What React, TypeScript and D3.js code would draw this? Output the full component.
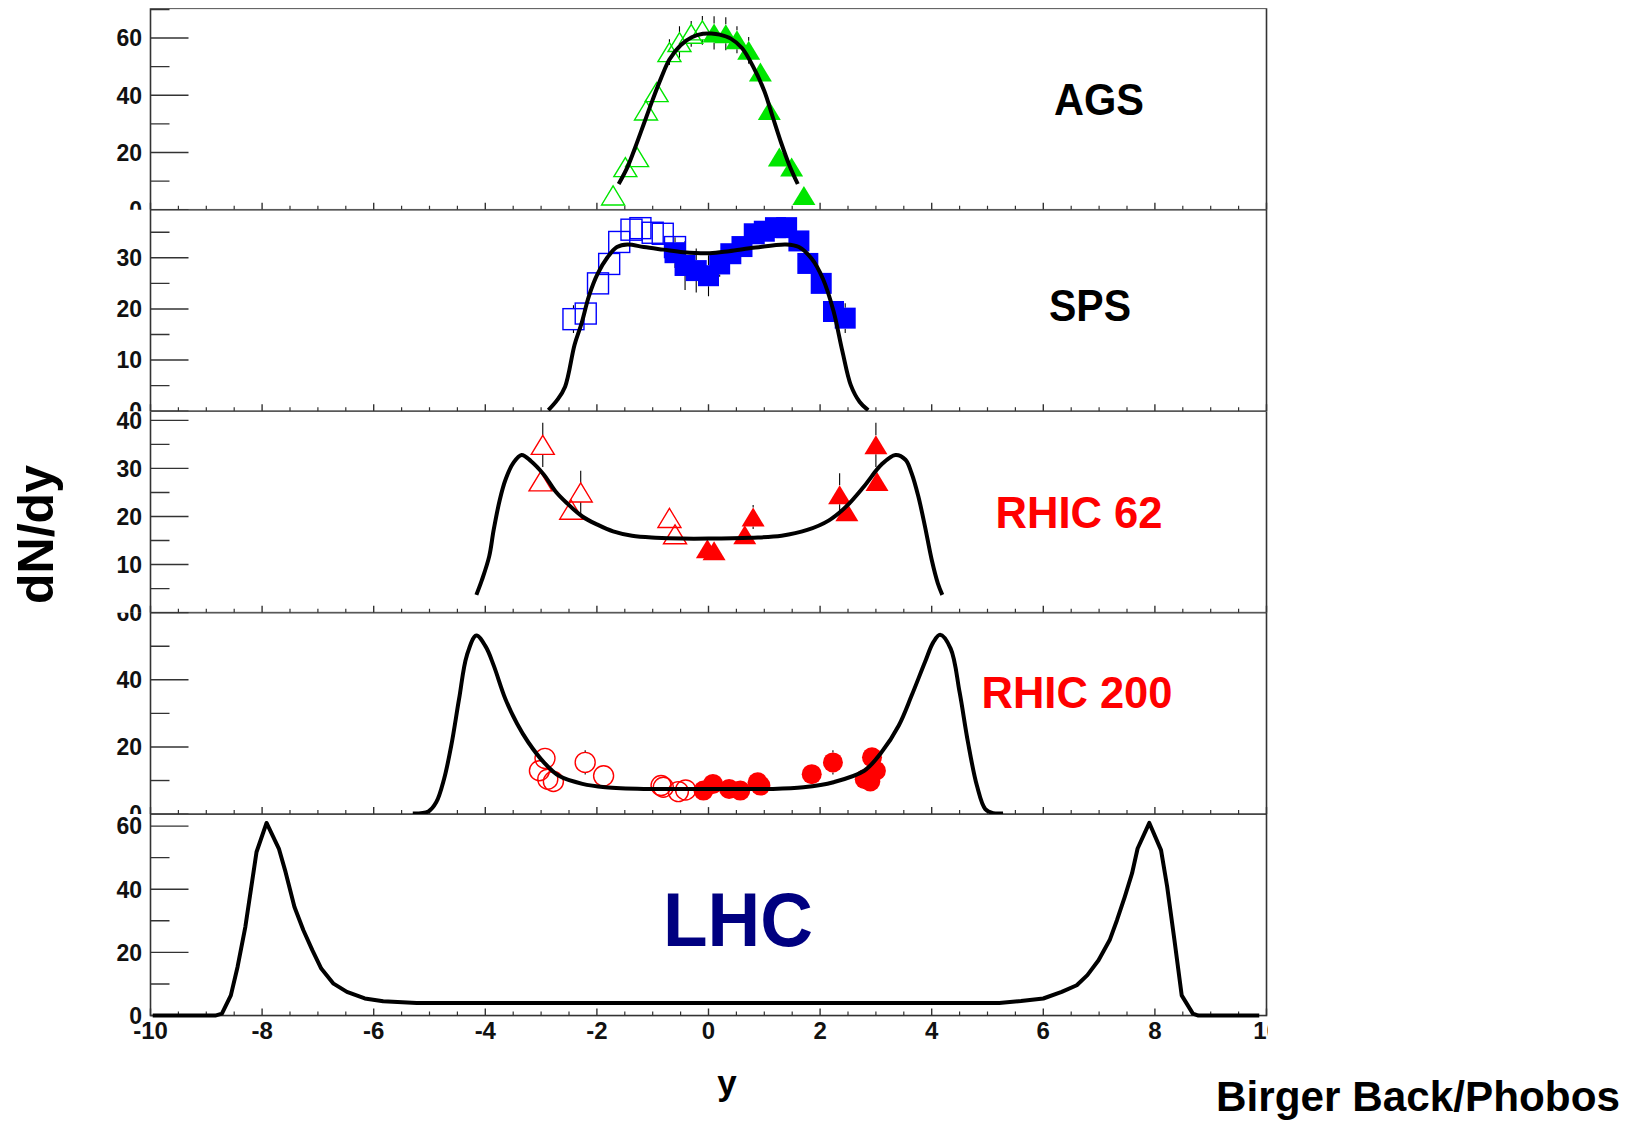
import React from "react";
import * as d3 from "d3";

// ---------- data ----------
const X_TICK_VALUES = [-10, -8, -6, -4, -2, 0, 2, 4, 6, 8, 10];
const X_TICK_LABELS = ["-10", "-8", "-6", "-4", "-2", "0", "2", "4", "6", "8", "10"];

const PANEL_NAMES = ["AGS", "SPS", "RHIC 62", "RHIC 200", "LHC"];
const PANEL_YMAX = [70.4, 39.4, 41.9, 60, 63.8];
const PANEL_Y_MAJOR = [[0, 20, 40, 60], [0, 10, 20, 30], [0, 10, 20, 30, 40], [0, 20, 40, 60], [0, 20, 40, 60]];
const PANEL_Y_MINOR = [[10, 30, 50, 70], [5, 15, 25, 35], [5, 15, 25, 35], [10, 30, 50], [10, 30, 50]];

// AGS (green triangles) : [y-rapidity, dN/dy, error]
const agsCurve = [[-1.61, 9], [-1.45, 15], [-1.3, 22.5], [-1.15, 30.5], [-1.0, 38.5], [-0.85, 46], [-0.7, 52.5], [-0.5, 57.5], [-0.3, 60.3], [-0.1, 61.5], [0.05, 61.6], [0.2, 61.2], [0.4, 59.8], [0.6, 56.5], [0.8, 50], [1.0, 41.5], [1.15, 32.5], [1.3, 23.5], [1.45, 15.5], [1.6, 9]];
const agsOpen = [[-1.71, 5.0, 1], [-1.49, 14.9, 1], [-1.28, 18.4, 1], [-1.12, 34.7, 1.5], [-0.93, 41.1, 1.5], [-0.7, 55.1, 4.5], [-0.52, 58.6, 5.5], [-0.31, 61.5, 4.5], [-0.11, 62.7, 5]];
const agsFilled = [[0.1, 61.8, 5.8], [0.31, 61.5, 5.8], [0.51, 59.4, 4.7], [0.72, 55.7, 4.7], [0.93, 48.1, 1.5], [1.09, 34.7, 1.5], [1.27, 18.4, 1], [1.49, 14.9, 1], [1.71, 5.0, 1]];

// SPS (blue squares)
const spsCurve = [[-2.87, 0.2], [-2.71, 2.2], [-2.57, 4.8], [-2.4, 13.0], [-2.28, 17.0], [-2.14, 22.6], [-1.99, 26.8], [-1.81, 30.1], [-1.64, 32.1], [-1.45, 32.6], [-1.16, 32.1], [-0.81, 31.6], [-0.45, 31.1], [0.02, 30.9], [0.37, 31.3], [0.84, 32.0], [1.39, 32.6], [1.62, 32.1], [1.85, 29.8], [2.05, 25.9], [2.24, 19.6], [2.4, 11.7], [2.55, 5.1], [2.71, 1.8], [2.86, 0.2]];
const spsOpen = [[-2.42, 18.0, 2.7], [-2.2, 19.1, 1], [-1.98, 25.0, 1], [-1.78, 28.8, 1], [-1.6, 33.1, 1], [-1.38, 35.5, 1], [-1.22, 35.8, 1], [-1.0, 34.9, 1], [-0.82, 34.7, 1], [-0.6, 32.1, 1]];
const spsFilled = [[-0.6, 31.0, 3], [-0.42, 28.5, 4.8], [-0.22, 27.5, 4.3], [0.0, 26.5, 4], [0.2, 28.8, 2.5], [0.4, 30.8, 1], [0.6, 32.2, 1], [0.82, 34.7, 1], [1.0, 35.2, 1], [1.2, 35.9, 1], [1.4, 35.9, 1], [1.62, 33.3, 1], [1.78, 28.9, 1], [2.02, 25.0, 1], [2.24, 19.5, 1], [2.45, 18.2, 2.9]];

// RHIC 62 (red triangles)
const rhic62Curve = [[-4.16, 3.7], [-4.06, 6.8], [-3.93, 11.7], [-3.85, 17.2], [-3.74, 23.5], [-3.64, 27.6], [-3.5, 31.1], [-3.35, 32.8], [-3.18, 31.5], [-2.95, 28.7], [-2.74, 25.2], [-2.54, 22.8], [-2.26, 20.0], [-1.99, 18.3], [-1.71, 16.9], [-1.37, 16.0], [-0.95, 15.6], [-0.47, 15.4], [0, 15.4], [0.76, 15.6], [1.31, 16.0], [1.77, 17.2], [2.16, 19.2], [2.47, 22.1], [2.79, 26.3], [3.1, 30.8], [3.35, 32.8], [3.53, 31.8], [3.64, 29.0], [3.76, 24.2], [3.88, 17.9], [4.0, 11.0], [4.11, 6.1], [4.19, 3.7]];
const rhic62Open = [[-2.97, 34.9, 4.6], [-3.01, 27.3, 1.5], [-2.29, 25.0, 4.5], [-2.46, 21.4, 1.5], [-0.7, 19.7, 1.5], [-0.6, 16.3, 1]];
const rhic62Filled = [[-0.02, 13.3, 1], [0.1, 12.9, 1], [0.65, 16.2, 1], [0.8, 19.9, 2.5], [2.35, 24.5, 4.5], [2.48, 21.0, 1.5], [3.0, 34.9, 4.6], [3.02, 27.3, 1.5]];

// RHIC 200 (red circles)
const rhic200Curve = [[-5.3, 0.2], [-5.02, 0.8], [-4.88, 3.5], [-4.74, 10.4], [-4.61, 20.4], [-4.47, 34.3], [-4.33, 47.3], [-4.16, 53.2], [-3.99, 49.8], [-3.85, 44.3], [-3.64, 34.3], [-3.43, 26.9], [-3.23, 21.4], [-2.95, 15.4], [-2.68, 11.4], [-2.26, 9.0], [-1.85, 8.0], [-1.16, 7.5], [0, 7.5], [1.15, 7.5], [1.7, 8.0], [2.24, 9.5], [2.79, 12.9], [3.1, 18.4], [3.41, 26.4], [3.64, 35.3], [3.88, 45.3], [4.03, 51.2], [4.15, 53.4], [4.34, 49.3], [4.5, 36.3], [4.65, 21.4], [4.81, 8.5], [4.96, 1.5], [5.1, 0.3], [5.28, 0.2]];
const rhic200Open = [[-2.93, 16.6, 1], [-3.03, 12.9, 1], [-2.88, 10.4, 1], [-2.78, 9.7, 1], [-2.21, 15.4, 3.6], [-1.88, 11.4, 1], [-0.85, 8.5, 1], [-0.81, 8.0, 1], [-0.54, 6.7, 1], [-0.41, 7.2, 1]];
const rhic200Filled = [[-0.09, 7.0, 1], [0.08, 9.0, 1], [0.37, 7.5, 1], [0.57, 7.0, 1], [0.88, 9.5, 1], [0.93, 8.5, 1], [1.85, 11.9, 1], [2.23, 15.4, 3.6], [2.93, 16.9, 1], [2.8, 10.4, 1], [3.0, 12.9, 1], [2.9, 9.7, 1]];

// LHC (prediction only)
const lhcCurve = [[-9.96, 0], [-8.84, 0], [-8.72, 0.6], [-8.56, 6.4], [-8.44, 15.4], [-8.3, 28.1], [-8.1, 51.8], [-7.92, 61.0], [-7.7, 52.9], [-7.58, 45.5], [-7.42, 34.4], [-7.26, 27.0], [-7.1, 20.7], [-6.94, 14.9], [-6.72, 10.1], [-6.48, 7.5], [-6.16, 5.4], [-5.83, 4.5], [-5.23, 4.0], [5.21, 4.0], [5.6, 4.6], [6.0, 5.4], [6.33, 7.5], [6.6, 9.6], [6.79, 12.8], [6.99, 17.5], [7.19, 23.9], [7.32, 30.2], [7.46, 37.6], [7.59, 45.0], [7.69, 52.9], [7.9, 61.0], [8.11, 52.4], [8.22, 40.8], [8.35, 23.9], [8.48, 6.4], [8.68, 0.6], [8.78, 0], [9.87, 0]];

// ---------- layout / style ----------
const W = 1636;
const H = 1122;
const FRAME_L = 150.5;
const FRAME_R = 1266.5;
const FRAME_TOP = 8.3;
const PANEL_H = 201.45;
const FONT = "'Liberation Sans', Arial, Helvetica, sans-serif";

const PANELS = [
  { curve: agsCurve, open: agsOpen, filled: agsFilled, shape: "tri", color: "#00e600", smooth: true, label: { x: 1099, y: 115, size: 44, len: 90, color: "#000" } },
  { curve: spsCurve, open: spsOpen, filled: spsFilled, shape: "sq", color: "#0000ff", smooth: true, label: { x: 1090, y: 320.5, size: 44, len: 82, color: "#000" } },
  { curve: rhic62Curve, open: rhic62Open, filled: rhic62Filled, shape: "tri", color: "#ff0000", smooth: true, label: { x: 1079, y: 528, size: 44, len: 167, color: "#ff0000" } },
  { curve: rhic200Curve, open: rhic200Open, filled: rhic200Filled, shape: "circ", color: "#ff0000", smooth: true, label: { x: 1077, y: 708, size: 44, len: 191, color: "#ff0000" } },
  { curve: lhcCurve, open: [], filled: [], shape: "none", color: "#000", smooth: false, label: { x: 738, y: 946, size: 76, len: 150, color: "#000080" } },
];

function markerHalf(shape: string) {
  if (shape === "tri") return 9.5;
  if (shape === "sq") return 10.5;
  return 10;
}

function Marker({ shape, filled, cx, cy, color }: any) {
  const fill = filled ? color : "none";
  const sw = filled ? 0 : 1.4;
  if (shape === "tri") {
    const pts = `${cx},${cy - 9.5} ${cx - 11.5},${cy + 9.5} ${cx + 11.5},${cy + 9.5}`;
    return <polygon points={pts} fill={fill} stroke={color} strokeWidth={sw} />;
  }
  if (shape === "sq") {
    return <rect x={cx - 10.5} y={cy - 10.5} width={21} height={21} fill={fill} stroke={color} strokeWidth={sw} />;
  }
  return <circle cx={cx} cy={cy} r={10} fill={fill} stroke={color} strokeWidth={sw} />;
}

export default function App() {
  const x = d3.scaleLinear().domain([-10, 10]).range([FRAME_L, FRAME_R]);
  const xMinor = d3.range(-10, 10.001, 0.5).filter((v) => Math.abs(v / 2 - Math.round(v / 2)) > 1e-6);

  return (
    <svg width={W} height={H} style={{ position: "absolute", left: 0, top: 0, background: "#fff" }} fontFamily={FONT}>
      <rect x={0} y={0} width={W} height={H} fill="#fff" />
      <defs>
        {PANELS.map((_, i) => {
          const top = FRAME_TOP + i * PANEL_H;
          const h = i === PANELS.length - 1 ? PANEL_H + 40 : PANEL_H;
          return (
            <clipPath id={`clip${i}`} key={i}>
              <rect x={0} y={top} width={FRAME_R + 1.5} height={h} />
            </clipPath>
          );
        })}
      </defs>
      {PANELS.map((p, i) => {
        const top = FRAME_TOP + i * PANEL_H;
        const bottom = top + PANEL_H;
        const y = d3.scaleLinear().domain([0, PANEL_YMAX[i]]).range([bottom, top]);
        const line = d3
          .line<number[]>()
          .x((d) => x(d[0]))
          .y((d) => y(d[1]))
          .curve(p.smooth ? d3.curveCatmullRom.alpha(0.5) : d3.curveLinear);
        const half = markerHalf(p.shape);
        const errBars = (pts: number[][], key: string) =>
          pts.map((d, j) => {
            const cx = x(d[0]);
            const cy = y(d[1]);
            const up = y(d[1] + d[2]);
            const dn = y(d[1] - d[2]);
            return (
              <g key={key + j} stroke="#000" strokeWidth={1.1}>
                {cy - up > half && <line x1={cx} x2={cx} y1={up} y2={cy - half} />}
                {dn - cy > half && <line x1={cx} x2={cx} y1={cy + half} y2={dn} />}
              </g>
            );
          });
        return (
          <g key={i} clipPath={`url(#clip${i})`}>
            {/* frame */}
            <rect x={FRAME_L} y={top} width={FRAME_R - FRAME_L} height={PANEL_H} fill="none" stroke="#333" strokeWidth={1.6} />
            {/* y ticks */}
            {PANEL_Y_MAJOR[i].map((v) => (
              <g key={"ym" + v}>
                <line x1={FRAME_L} x2={FRAME_L + 38} y1={y(v)} y2={y(v)} stroke="#333" strokeWidth={1.4} />
                <text x={142} y={y(v)} dy="0.36em" textAnchor="end" fontSize={23} fontWeight="bold" fill="#111">
                  {v}
                </text>
              </g>
            ))}
            {PANEL_Y_MINOR[i]
              .filter((v) => v <= PANEL_YMAX[i])
              .map((v) => (
                <line key={"yn" + v} x1={FRAME_L} x2={FRAME_L + 19} y1={y(v)} y2={y(v)} stroke="#333" strokeWidth={1.4} />
              ))}
            {/* x ticks */}
            {X_TICK_VALUES.map((v) => (
              <line key={"xm" + v} x1={x(v)} x2={x(v)} y1={bottom} y2={bottom - 7} stroke="#333" strokeWidth={1.4} />
            ))}
            {xMinor.map((v) => (
              <line key={"xn" + v} x1={x(v)} x2={x(v)} y1={bottom} y2={bottom - 4} stroke="#333" strokeWidth={1.2} />
            ))}
            {i === PANELS.length - 1 &&
              X_TICK_VALUES.map((v, j) => (
                <text key={"xl" + v} x={x(v)} y={1039} textAnchor="middle" fontSize={24} fontWeight="bold" fill="#111">
                  {X_TICK_LABELS[j]}
                </text>
              ))}
            {/* data */}
            {errBars(p.open, "eo")}
            {errBars(p.filled, "ef")}
            {p.open.map((d, j) => (
              <Marker key={"o" + j} shape={p.shape} filled={false} cx={x(d[0])} cy={y(d[1])} color={p.color} />
            ))}
            {p.filled.map((d, j) => (
              <Marker key={"f" + j} shape={p.shape} filled={true} cx={x(d[0])} cy={y(d[1])} color={p.color} />
            ))}
            <path d={line(p.curve) || ""} fill="none" stroke="#000" strokeWidth={4} strokeLinejoin="round" />
            <text
              x={p.label.x}
              y={p.label.y}
              textAnchor="middle"
              fontSize={p.label.size}
              fontWeight="bold"
              fill={p.label.color}
              textLength={p.label.len}
              lengthAdjust="spacingAndGlyphs"
            >
              {PANEL_NAMES[i]}
            </text>
          </g>
        );
      })}
      {/* axis titles */}
      <text transform="translate(53,534.5) rotate(-90)" textAnchor="middle" fontSize={50} fontWeight="bold" fill="#000">
        dN/dy
      </text>
      <text x={727} y={1095} textAnchor="middle" fontSize={35} fontWeight="bold" fill="#000">
        y
      </text>
      <text x={1216} y={1111} fontSize={42} fontWeight="bold" fill="#000" textLength={404} lengthAdjust="spacingAndGlyphs">
        Birger Back/Phobos
      </text>
    </svg>
  );
}
